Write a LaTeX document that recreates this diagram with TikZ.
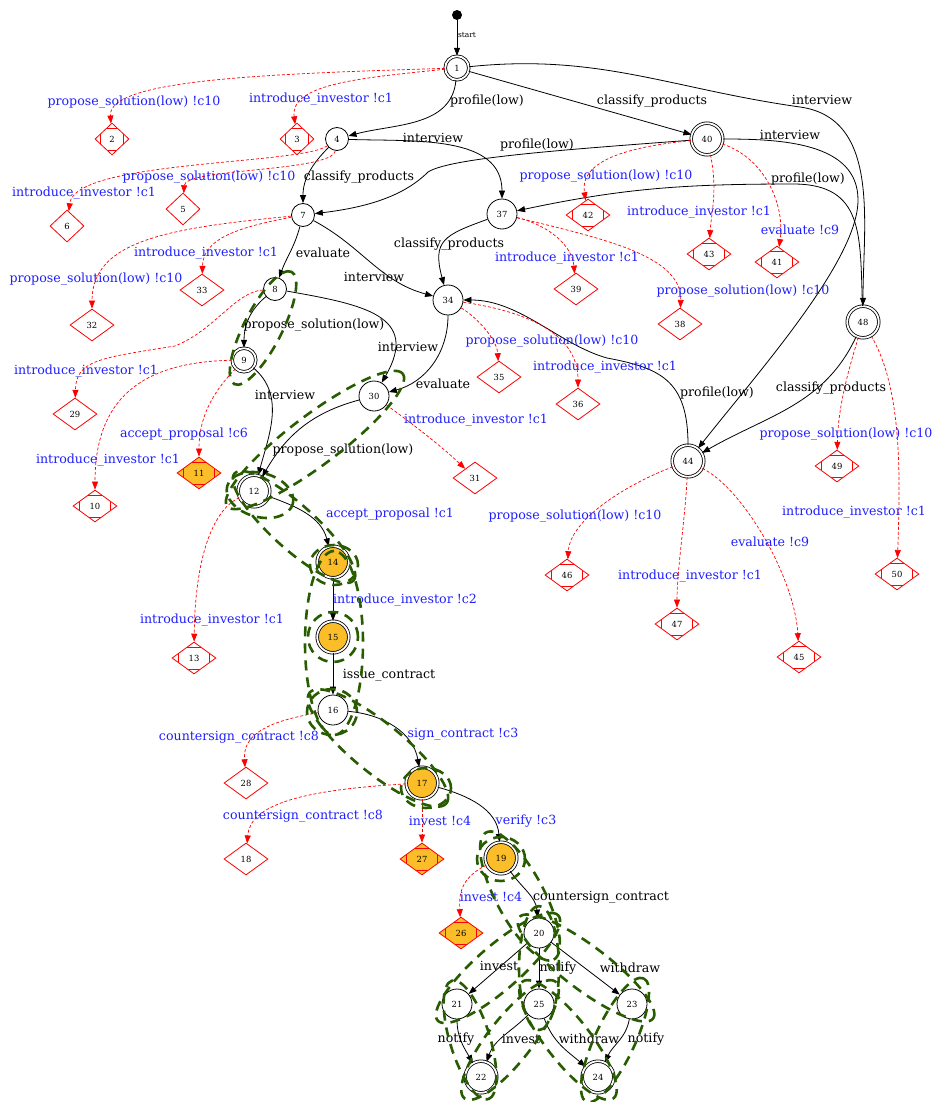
\documentclass[tikz,border=0pt]{standalone}
\usepackage{fontspec}
\setmainfont{DejaVu Serif}
\usetikzlibrary{shapes.geometric,arrows.meta,calc}

\begin{document}
\begin{tikzpicture}[x=1pt,y=1pt,>={Triangle[length=8pt,width=6pt]}]
    % set up colours
    \definecolor{tBlue}{RGB}{30,30,255}
    \definecolor{fRed}{RGB}{255,0,0}
    \definecolor{gGold}{RGB}{252,190,40}
    \definecolor{pGreen}{RGB}{40,92,0}
    \tikzstyle{every node}=[font=\fontsize{8.4}{10}\selectfont]
    \tikzstyle{st}=[circle,draw,fill=white,line width=0.8pt,inner sep=0pt,minimum size=23pt]
    \tikzstyle{wide}=[minimum size=30pt]
    \tikzstyle{final}=[st,double,double distance=1.8pt,minimum size=23.6pt]
    \tikzstyle{widefinal}=[final,minimum size=31.6pt]
    \tikzstyle{goal}=[widefinal,fill=gGold]
    \tikzstyle{bad}=[diamond,draw=fRed,fill=white,line width=0.8pt,inner sep=0pt,minimum width=44pt,minimum height=32pt]
    \tikzstyle{badsmall}=[bad,minimum width=34pt]
    \tikzstyle{marked}=[path picture={
        \path (path picture bounding box.north) coordinate (pn)
              (path picture bounding box.south) coordinate (ps)
              (path picture bounding box.east) coordinate (pe)
              (path picture bounding box.west) coordinate (pw);
        \draw[fRed,line width=0.7pt]
              ($(pn)!0.3!(pw)$) -- ($(pn)!0.3!(pe)$)
              ($(ps)!0.3!(pw)$) -- ($(ps)!0.3!(pe)$)
              ($(pw)!0.3!(pn)$) -- ($(pw)!0.3!(ps)$)
              ($(pe)!0.3!(pn)$) -- ($(pe)!0.3!(ps)$);}]
    \tikzstyle{trans}=[->,line width=0.8pt]
    \tikzstyle{fail}=[->,draw=fRed,line width=0.7pt,dash pattern=on 3pt off 2pt]
    \tikzstyle{lab}=[font=\fontsize{12.6}{14}\selectfont]
    \tikzstyle{blab}=[lab,text=tBlue]
    \tikzstyle{trace}=[draw=pGreen,line width=2.6pt,dash pattern=on 10pt off 7pt]

    \useasboundingbox (0,0) rectangle (933,-1102);

    % states
    \node[circle,fill,inner sep=0pt,minimum size=10pt] (start) at (457,-15) {};
    \node[final] (n1) at (457,-68) {1};
    \node[st] (n4) at (337,-139) {4};
    \node[st] (n7) at (303,-215) {7};
    \node[st] (n8) at (275,-289) {8};
    \node[final] (n9) at (244,-360) {9};
    \node[widefinal] (n12) at (254,-491) {12};
    \node[goal] (n14) at (333,-562) {14};
    \node[goal] (n15) at (333,-637) {15};
    \node[st,wide] (n16) at (333,-710) {16};
    \node[goal] (n17) at (422,-783) {17};
    \node[goal] (n19) at (501,-858) {19};
    \node[st,wide] (n20) at (539,-933) {20};
    \node[st,wide] (n21) at (457,-1004) {21};
    \node[st,wide] (n25) at (539,-1004) {25};
    \node[st,wide] (n23) at (632,-1004) {23};
    \node[widefinal] (n22) at (481,-1077) {22};
    \node[widefinal] (n24) at (598,-1077) {24};
    \node[st,wide] (n30) at (374,-396) {30};
    \node[st,wide] (n34) at (448,-300) {34};
    \node[st,wide] (n37) at (502,-214) {37};
    \node[widefinal] (n40) at (707,-139) {40};
    \node[widefinal] (n48) at (863,-322) {48};
    \node[widefinal] (n44) at (688,-461) {44};

    % violation states
    \foreach \i/\x/\y in {6/67/226, 5/183/209}
      \node[badsmall] (d\i) at (\x,-\y) {\i};
    \foreach \i/\x/\y in {2/112/139, 3/297/139}
      \node[badsmall,marked] (d\i) at (\x,-\y) {\i};
    \foreach \i/\x/\y in {33/202/290, 32/92/325, 29/75/414, 28/246/783, 18/246/859,
                          31/475/478, 35/499/377, 36/578/404, 39/576/289, 38/680/324}
      \node[bad] (d\i) at (\x,-\y) {\i};
    \foreach \i/\x/\y in {10/95/506, 13/194/658, 42/588/215, 43/709/254, 41/777/262,
                          49/837/466, 50/897/574, 46/567/575, 47/677/624, 45/799/657}
      \node[bad,marked] (d\i) at (\x,-\y) {\i};
    \foreach \i/\x/\y in {11/199/473, 27/422/859, 26/461/933}
      \node[bad,marked,fill=gGold] (d\i) at (\x,-\y) {\i};

    % bends for the long transitions
    \coordinate (w1) at (800,-107);
    \coordinate (w2) at (428,-172);
    \coordinate (w3) at (858,-200);
    \coordinate (w4) at (793,-184);
    \coordinate (w5) at (607,-358);
    \coordinate (w6) at (175,-346);

    % transitions
    \draw[trans] (start) -- (n1);
    \draw[trans] (n1) to[out=-95,in=15] (n4);
    \draw[trans] (n1) -- (n40);
    \draw[trans] (n1) to[out=6,in=172] (w1) to[out=-8,in=90] (n48);
    \draw[trans] (n4) to[out=-2,in=90] (n37);
    \draw[trans] (n4) to[out=-135,in=90] (n7);
    \draw[trans] (n40) .. controls (560,-150) and (450,-158) .. (w2) .. controls (405,-195) and (370,-207) .. (n7);
    \draw[trans] (n40) to[out=0,in=90] (w3) .. controls (858,-260) and (760,-370) .. (n44);
    \draw[trans] (n48) to[out=92,in=0,looseness=1.3] (w4) to[out=180,in=12] (n37);
    \draw[trans] (n48) to[out=-115,in=30] (n44);
    \draw[trans] (n44) .. controls (688,-380) and (660,-368) .. (w5) .. controls (560,-345) and (520,-300) .. (n34);
    \draw[trans] (n7) to[out=-105,in=70] (n8);
    \draw[trans] (n7) to[out=-28,in=165] (n34);
    \draw[trans] (n37) to[out=200,in=105,looseness=1.5] (n34);
    \draw[trans] (n8) to[out=-140,in=90] (n9);
    \draw[trans] (n8) to[out=-10,in=60,looseness=1.5] (n30);
    \draw[trans] (n34) to[out=-90,in=15] (n30);
    \draw[trans] (n9) to[out=-40,in=75] (n12);
    \draw[trans] (n30) to[out=195,in=60] (n12);
    \draw[trans] (n12) to[out=-20,in=105] (n14);
    \draw[trans] (n14) -- (n15);
    \draw[trans] (n15) -- (n16);
    \draw[trans] (n16) to[out=-5,in=100] (n17);
    \draw[trans] (n17) to[out=-15,in=95] (n19);
    \draw[trans] (n19) to[out=-55,in=95] (n20);
    \draw[trans] (n20) -- (n21);
    \draw[trans] (n20) -- (n25);
    \draw[trans] (n20) -- (n23);
    \draw[trans] (n21) to[out=-90,in=120] (n22);
    \draw[trans] (n25) to[out=-135,in=70] (n22);
    \draw[trans] (n25) to[out=-70,in=140] (n24);
    \draw[trans] (n23) to[out=-100,in=65] (n24);

    % failing transitions
    \draw[fail] (n1) .. controls (260,-74) and (108,-80) .. (d2);
    \draw[fail] (n1) .. controls (360,-78) and (290,-84) .. (d3);
    \draw[fail] (n4) .. controls (300,-165) and (75,-160) .. (d6);
    \draw[fail] (n4) .. controls (332,-172) and (185,-168) .. (d5);
    \draw[fail] (n7) .. controls (240,-227) and (203,-238) .. (d33);
    \draw[fail] (n7) .. controls (170,-228) and (92,-240) .. (d32);
    \draw[fail] (n8) .. controls (235,-292) and (215,-330) .. (w6) .. controls (100,-358) and (76,-360) .. (d29);
    \draw[fail] (n9) .. controls (210,-395) and (199,-420) .. (d11);
    \draw[fail] (n9) .. controls (140,-362) and (95,-400) .. (d10);
    \draw[fail] (n12) .. controls (212,-510) and (195,-560) .. (d13);
    \draw[fail] (n30) .. controls (410,-422) and (440,-445) .. (d31);
    \draw[fail] (n34) .. controls (478,-318) and (497,-340) .. (d35);
    \draw[fail] (n34) .. controls (530,-312) and (578,-335) .. (d36);
    \draw[fail] (n37) .. controls (548,-225) and (572,-245) .. (d39);
    \draw[fail] (n37) .. controls (600,-238) and (682,-255) .. (d38);
    \draw[fail] (n40) .. controls (615,-148) and (580,-165) .. (d42);
    \draw[fail] (n40) .. controls (718,-190) and (711,-215) .. (d43);
    \draw[fail] (n40) .. controls (765,-158) and (785,-205) .. (d41);
    \draw[fail] (n48) .. controls (850,-365) and (838,-405) .. (d49);
    \draw[fail] (n48) .. controls (903,-390) and (900,-480) .. (d50);
    \draw[fail] (n44) .. controls (625,-485) and (570,-520) .. (d46);
    \draw[fail] (n44) .. controls (685,-520) and (677,-570) .. (d47);
    \draw[fail] (n44) .. controls (745,-490) and (795,-580) .. (d45);
    \draw[fail] (n16) .. controls (265,-722) and (243,-735) .. (d28);
    \draw[fail] (n17) .. controls (300,-790) and (250,-805) .. (d18);
    \draw[fail] (n17) -- (d27);
    \draw[fail] (n19) .. controls (460,-878) and (459,-895) .. (d26);

    % labels
    \node[font=\fontsize{7.5}{9}\selectfont] (lstart) at (467,-35) {start};
    \foreach \nm/\x/\y/\txt in {l1/487/101/profile(low), l2/652/101/classify\_products,
        l3/822/100/interview, l4/433/138/interview, l5/359/177/classify\_products,
        l6/537/145/profile(low), l7/790/135/interview, l8/808/179/profile(low),
        l9/831/388/classify\_products, l10/717/393/profile(low), l11/323/253/evaluate,
        l12/374/277/interview, l13/449/244/classify\_products, l14/314/325/propose\_solution(low),
        l15/408/347/interview, l16/443/384/evaluate, l17/285/395/interview,
        l18/343/450/propose\_solution(low), l19/389/675/issue\_contract,
        l20/601/897/countersign\_contract, l21/499/966/invest, l22/558/968/notify,
        l23/630/968/withdraw, l24/456/1039/notify, l25/521/1039/invest,
        l26/589/1039/withdraw, l27/646/1039/notify}
      \node[lab] (\nm) at (\x,-\y) {\txt};
    \foreach \nm/\x/\y/\txt in {b1/134/102/propose\_solution(low) !c10,
        b2/321/99/introduce\_investor !c1, b3/84/193/introduce\_investor !c1,
        b4/209/177/propose\_solution(low) !c10, b5/206/253/introduce\_investor !c1,
        b6/96/279/propose\_solution(low) !c10, b7/86/371/introduce\_investor !c1,
        b8/184/434/accept\_proposal !c6, b9/108/460/introduce\_investor !c1,
        b10/212/620/introduce\_investor !c1, b11/476/420/introduce\_investor !c1,
        b12/552/341/propose\_solution(low) !c10, b13/605/367/introduce\_investor !c1,
        b14/567/258/introduce\_investor !c1, b15/743/291/propose\_solution(low) !c10,
        b16/606/176/propose\_solution(low) !c10, b17/699/212/introduce\_investor !c1,
        b18/800/230/evaluate !c9, b19/846/434/propose\_solution(low) !c10,
        b20/854/512/introduce\_investor !c1, b21/575/516/propose\_solution(low) !c10,
        b22/690/576/introduce\_investor !c1, b23/770/542/evaluate !c9,
        b24/390/514/accept\_proposal !c1, b25/405/600/introduce\_investor !c2,
        b26/463/734/sign\_contract !c3, b27/239/737/countersign\_contract !c8,
        b28/303/816/countersign\_contract !c8, b29/440/821/invest !c4,
        b30/526/821/verify !c3, b31/491/897/invest !c4}
      \node[blab] (\nm) at (\x,-\y) {\txt};

    % highlighted witness paths
    \foreach \cx/\cy/\ra/\rb/\rot in {263/328/63/19/63, 315/440/110/25/37, 260/495/34/22/-15,
        294/527/80/22/-42, 334/565/24/20/0, 334/643/92/29/90, 333/637/25/25/0,
        332/712/25/23/0, 378/748/88/25/-39, 426/788/25/20/0, 501/859/24/22/0,
        520/896/72/24/-62, 498/968/80/22/41, 470/1040/62/20/-73, 539/968/62/20/90,
        510/1040/74/22/52, 568/1040/74/22/-52, 586/968/84/22/-37, 615/1040/68/20/65}
      \draw[trace,rotate around={\rot:(\cx,-\cy)}] (\cx,-\cy) ellipse [x radius=\ra, y radius=\rb];

\end{tikzpicture}
\end{document}
